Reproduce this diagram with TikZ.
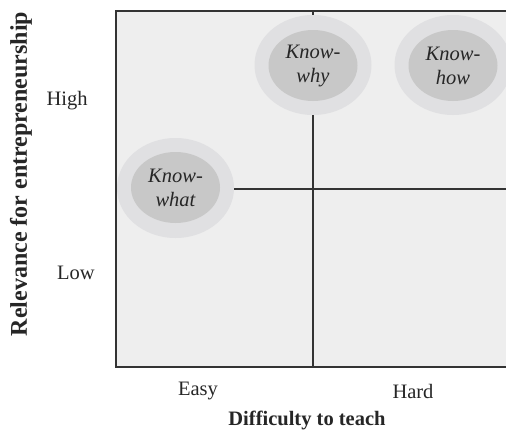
\documentclass[tikz,border=0pt]{standalone}
\usepackage{fontspec}
\setmainfont{Liberation Serif}
\usetikzlibrary{shapes.geometric}
\definecolor{bgfill}{HTML}{EEEEEE}
\definecolor{outerfill}{HTML}{E0E0E2}
\definecolor{innerfill}{HTML}{C8C8C8}
\definecolor{frame}{HTML}{333333}
\tikzset{
  outerell/.style={ellipse, fill=outerfill, inner sep=0pt, minimum width=117pt, minimum height=100pt},
  innerell/.style={ellipse, fill=innerfill, inner sep=0pt, minimum width=89pt, minimum height=71pt,
    align=center, font=\fontsize{20.5}{24}\selectfont\itshape, text=black!85},
  ticklabel/.style={font=\fontsize{20.5}{24}\selectfont, text=black!85},
  axislabel/.style={font=\fontsize{20.5}{24}\selectfont\bfseries, text=black!85},
  gridline/.style={draw=frame, line width=1.4pt}
}
\begin{document}
\begin{tikzpicture}[x=1pt,y=-1pt]
\useasboundingbox (0,0) rectangle (506,429);
% frame
\fill[bgfill] (116,11) rectangle (510,367);
\coordinate (tl) at (116,11);
\coordinate (br) at (510,367);
\draw[gridline] (510,11) -- (tl) |- (br);
\coordinate (vtop) at (313,11);
\coordinate (vbot) at (313,367);
\coordinate (hl) at (116,189);
\coordinate (hr) at (510,189);
\draw[gridline] (vtop) -- (vbot);
\draw[gridline] (hl) -- (hr);
% ellipses
\node[outerell] (whyO) at (313,65) {};
\node[innerell] (why) at (313,65.5) {Know-\\why};
\node[outerell] (howO) at (453,65) {};
\node[innerell] (how) at (453,65.5) {Know-\\how};
\node[outerell] (whatO) at (175.5,188) {};
\node[innerell] (what) at (175.5,187.5) {Know-\\what};
% labels
\node[ticklabel] (high) at (67,101) {High};
\node[ticklabel] (low) at (76,273) {Low};
\node[ticklabel] (easy) at (198,391) {Easy};
\node[ticklabel] (hard) at (413,391) {Hard};
\node[axislabel] (xlab) at (307,420) {Difficulty to teach};
\node[axislabel, rotate=90, font=\fontsize{24}{28}\selectfont\bfseries] (ylab) at (21,174) {Relevance for entrepreneurship};
\end{tikzpicture}
\end{document}
